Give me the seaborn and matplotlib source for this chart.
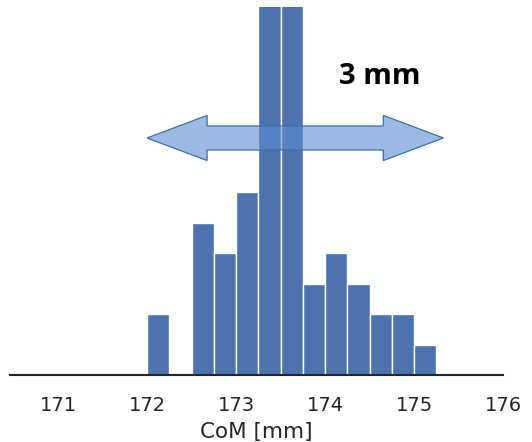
import numpy as np
import pandas as pd
import matplotlib
matplotlib.use("Agg")
import matplotlib.pyplot as plt
from matplotlib.patches import Polygon
import seaborn as sns

# histogram of CoM positions, bin width 0.25 mm
bin_left = [172.0, 172.25, 172.5, 172.75, 173.0, 173.25, 173.5,
            173.75, 174.0, 174.25, 174.5, 174.75, 175.0]
counts = [2, 0, 5, 4, 6, 13, 13, 3, 4, 3, 2, 2, 1]
bin_width = 0.25
xticks = [171, 172, 173, 174, 175, 176]

# arrow span and label
arrow_from = 172.0
arrow_to = 175.33
arrow_level = 7.78
arrow_text = "3 mm"

df = pd.DataFrame({"CoM": np.array(bin_left) + bin_width / 2, "n": counts})
edges = list(bin_left) + [bin_left[-1] + bin_width]

sns.set_style("white")
plt.rcParams['font.family'] = ['DejaVu Sans']

fig = plt.figure(figsize=(5.32, 4.42), dpi=100)
ax = fig.add_axes([10/532, 67/442, 493/532, 368/442])

sns.histplot(data=df, x="CoM", weights="n", bins=edges, color="#4c72b0",
             alpha=1, edgecolor="white", linewidth=1, ax=ax)

ax.set_xlim(170.46, 176.0)
ax.set_ylim(0, 12.08)
ax.set_xticks(xticks)
ax.tick_params(axis="x", length=0, pad=15, labelsize=14, colors="#262626")
ax.set_yticks([])
ax.set_ylabel("")
ax.set_xlabel("CoM [mm]", fontsize=15.5, color="#262626", labelpad=5)
sns.despine(ax=ax, left=True)
ax.spines["bottom"].set_color("#262626")
ax.spines["bottom"].set_linewidth(1.5)
ax.spines["bottom"].set_clip_on(False)

# double headed block arrow
shaft = 0.394
head = 0.74
head_len = 0.675
pts = [(arrow_from, arrow_level),
       (arrow_from + head_len, arrow_level + head),
       (arrow_from + head_len, arrow_level + shaft),
       (arrow_to - head_len, arrow_level + shaft),
       (arrow_to - head_len, arrow_level + head),
       (arrow_to, arrow_level),
       (arrow_to - head_len, arrow_level - head),
       (arrow_to - head_len, arrow_level - shaft),
       (arrow_from + head_len, arrow_level - shaft),
       (arrow_from + head_len, arrow_level - head)]
ax.add_patch(Polygon(pts, closed=True, facecolor=(0.357, 0.557, 0.816, 0.6),
                     edgecolor="#3f6ea8", linewidth=0.9, zorder=5))

ax.text(174.62, 9.79, arrow_text, fontsize=21, fontweight="bold", color="black",
        family=["Open Sans", "DejaVu Sans"], ha="center", va="center")

plt.savefig("out.png", dpi=100)
